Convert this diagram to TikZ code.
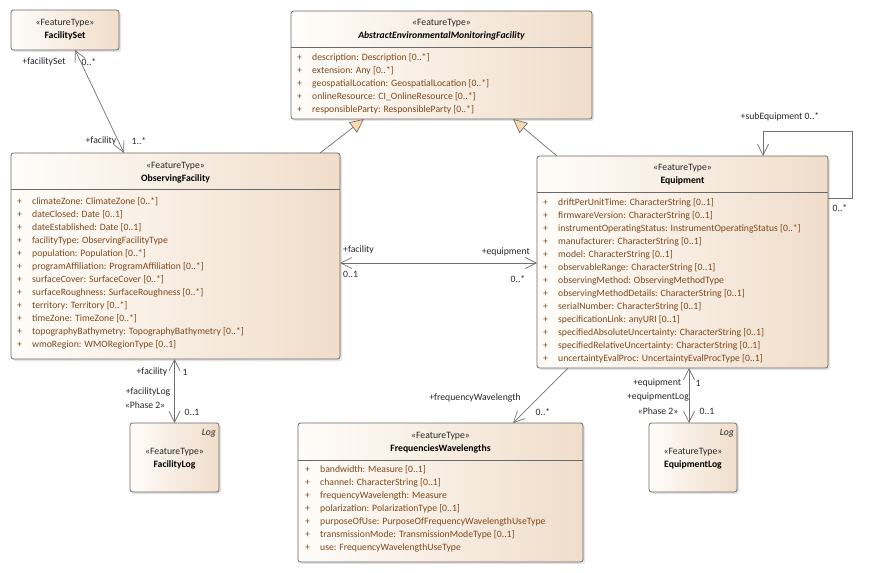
\documentclass[tikz,border=0pt]{standalone}
\usepackage{fontspec}
\setmainfont{Carlito}
\usetikzlibrary{arrows.meta,positioning,calc,shadows}
\definecolor{boxL}{RGB}{255,253,250}
\definecolor{boxR}{RGB}{240,221,202}
\definecolor{boxLine}{RGB}{105,105,105}
\definecolor{attrcolor}{RGB}{125,72,28}
\definecolor{linkcolor}{RGB}{112,112,112}
\definecolor{genfill}{RGB}{250,218,170}
\newcommand{\attr}[1]{\makebox[15pt][l]{+}#1}
\newcommand{\umlfont}{\fontsize{9.7}{13}\selectfont}

\tikzset{
  umlbox/.style={draw=boxLine, line width=0.8pt, rounded corners=2.5pt,
    left color=boxL, right color=boxR, inner sep=0pt, outer sep=0pt,
    anchor=north west,
    drop shadow={opacity=0.22, shadow xshift=2pt, shadow yshift=-2pt}},
  stereo/.style={font=\umlfont, text=black!85, inner sep=0pt},
  clsname/.style={font=\umlfont\bfseries, inner sep=0pt},
  attrlist/.style={font=\umlfont, text=attrcolor,
    align=left, anchor=north west, inner sep=0pt},
  divider/.style={draw=boxLine, line width=0.8pt},
  assoc/.style={draw=linkcolor, line width=0.7pt},
  gen/.style={draw=linkcolor, line width=0.7pt,
    -{Triangle[length=14pt, width=13pt, fill=genfill]}},
  role/.style={font=\umlfont, text=black!85, inner sep=0pt},
  >={Straight Barb[length=11pt, width=11pt]}
}

\begin{document}
\begin{tikzpicture}[x=1pt, y=-1pt]
  \useasboundingbox (0,0) rectangle (874,572);
  % --- class boxes ---
  \node[umlbox, minimum width=108pt, minimum height=40pt] (fset) at (11,10) {};
  \node[umlbox, minimum width=301pt, minimum height=108pt] (abst) at (291,11) {};
  \node[umlbox, minimum width=329pt, minimum height=206pt] (ofac) at (11,153) {};
  \node[umlbox, minimum width=291pt, minimum height=212pt] (equip) at (537,156) {};
  \node[umlbox, minimum width=285pt, minimum height=139pt] (fw) at (298,423) {};
  \node[umlbox, minimum width=89pt, minimum height=69pt] (flog) at (130,423) {};
  \node[umlbox, minimum width=88pt, minimum height=69pt] (elog) at (649,423) {};

  % --- compartment lines ---
  \draw[divider] (abst.west |- 0,47) -- (abst.east |- 0,47);
  \draw[divider] (ofac.west |- 0,189) -- (ofac.east |- 0,189);
  \draw[divider] (equip.west |- 0,192) -- (equip.east |- 0,192);
  \draw[divider] (fw.west |- 0,460) -- (fw.east |- 0,460);

  % --- headers ---
  \node[stereo] (fset-st) at (fset.north |- 0,23) {«FeatureType»};
  \node[clsname] (fset-nm) at (fset.north |- 0,36) {FacilitySet};
  \node[stereo] (abst-st) at (abst.north |- 0,23) {«FeatureType»};
  \node[clsname, font=\umlfont\bfseries\itshape] (abst-nm)
    at (abst.north |- 0,36) {AbstractEnvironmentalMonitoringFacility};
  \node[stereo] (ofac-st) at (ofac.north |- 0,166) {«FeatureType»};
  \node[clsname] (ofac-nm) at (ofac.north |- 0,179) {ObservingFacility};
  \node[stereo] (equip-st) at (equip.north |- 0,168) {«FeatureType»};
  \node[clsname] (equip-nm) at (equip.north |- 0,181) {Equipment};
  \node[stereo] (fw-st) at (fw.north |- 0,436) {«FeatureType»};
  \node[clsname] (fw-nm) at (fw.north |- 0,449) {FrequenciesWavelengths};
  \node[stereo] (flog-st) at (flog.north |- 0,452) {«FeatureType»};
  \node[clsname] (flog-nm) at (flog.north |- 0,465) {FacilityLog};
  \node[stereo, font=\umlfont\itshape, anchor=east] (flog-tag)
    at (216,433) {Log};
  \node[stereo] (elog-st) at (elog.north |- 0,452) {«FeatureType»};
  \node[clsname] (elog-nm) at (elog.north |- 0,465) {EquipmentLog};
  \node[stereo, font=\umlfont\itshape, anchor=east] (elog-tag)
    at (734,433) {Log};

  % --- attributes ---
  \node[attrlist] (abst-at) at (297,53.5) {%
    \attr{description: Description [0..*]}\\
    \attr{extension: Any [0..*]}\\
    \attr{geospatialLocation: GeospatialLocation [0..*]}\\
    \attr{onlineResource: CI\_OnlineResource [0..*]}\\
    \attr{responsibleParty: ResponsibleParty [0..*]}};
  \node[attrlist] (ofac-at) at (17,197.5) {%
    \attr{climateZone: ClimateZone [0..*]}\\
    \attr{dateClosed: Date [0..1]}\\
    \attr{dateEstablished: Date [0..1]}\\
    \attr{facilityType: ObservingFacilityType}\\
    \attr{population: Population [0..*]}\\
    \attr{programAffiliation: ProgramAffiliation [0..*]}\\
    \attr{surfaceCover: SurfaceCover [0..*]}\\
    \attr{surfaceRoughness: SurfaceRoughness [0..*]}\\
    \attr{territory: Territory [0..*]}\\
    \attr{timeZone: TimeZone [0..*]}\\
    \attr{topographyBathymetry: TopographyBathymetry [0..*]}\\
    \attr{wmoRegion: WMORegionType [0..1]}};
  \node[attrlist] (equip-at) at (543,198.5) {%
    \attr{driftPerUnitTime: CharacterString [0..1]}\\
    \attr{firmwareVersion: CharacterString [0..1]}\\
    \attr{instrumentOperatingStatus: InstrumentOperatingStatus [0..*]}\\
    \attr{manufacturer: CharacterString [0..1]}\\
    \attr{model: CharacterString [0..1]}\\
    \attr{observableRange: CharacterString [0..1]}\\
    \attr{observingMethod: ObservingMethodType}\\
    \attr{observingMethodDetails: CharacterString [0..1]}\\
    \attr{serialNumber: CharacterString [0..1]}\\
    \attr{specificationLink: anyURI [0..1]}\\
    \attr{specifiedAbsoluteUncertainty: CharacterString [0..1]}\\
    \attr{specifiedRelativeUncertainty: CharacterString [0..1]}\\
    \attr{uncertaintyEvalProc: UncertaintyEvalProcType [0..1]}};
  \node[attrlist] (fw-at) at (305,465.5) {%
    \attr{bandwidth: Measure [0..1]}\\
    \attr{channel: CharacterString [0..1]}\\
    \attr{frequencyWavelength: Measure}\\
    \attr{polarization: PolarizationType [0..1]}\\
    \attr{purposeOfUse: PurposeOfFrequencyWavelengthUseType}\\
    \attr{transmissionMode: TransmissionModeType [0..1]}\\
    \attr{use: FrequencyWavelengthUseType}};

  % --- generalizations ---
  \draw[gen] ([xshift=309pt]ofac.north west) -- ([xshift=73pt]abst.south west);
  \draw[gen] ([xshift=20pt]equip.north west) -- ([xshift=222pt]abst.south west);

  % --- associations ---
  \draw[assoc, <->] ([xshift=64pt]fset.south west) -- ([xshift=113pt]ofac.north west);
  \draw[assoc, <->] (ofac.east |- 0,263) -- (equip.west |- 0,263);
  \draw[assoc, <->] (ofac.south -| flog.north) -- (flog.north);
  \draw[assoc, <->] (equip.south -| 689,0) -- (elog.north -| 689,0);
  \draw[assoc, ->] ([xshift=31pt]equip.south west) -- ([xshift=215pt]fw.north west);
  \draw[assoc, ->] (equip.east |- 0,198) -- (852,198) -- (852,131)
    -| ([xshift=226pt]equip.north west);

  % --- role names and multiplicities ---
  \node[role] (r-fset) at (44,62) {+facilitySet};
  \node[role] (m-fset) at (89,62) {0..*};
  \node[role] (r-fac1) at (101,141) {+facility};
  \node[role] (m-fac1) at (139,141) {1..*};
  \node[role, anchor=west] (r-fac2) at (343,250) {+facility};
  \node[role, anchor=west] (m-fac2) at (343,274) {0..1};
  \node[role, anchor=east] (r-eq1) at (530,252) {+equipment};
  \node[role] (m-eq1) at (518,279) {0..*};
  \node[role] (r-sub) at (780,117) {+subEquipment 0..*};
  \node[role] (m-sub) at (840,208) {0..*};
  \node[role] (r-freq) at (475,398) {+frequencyWavelength};
  \node[role] (m-freq) at (543,412) {0..*};
  \node[role] (r-fac3) at (152,372) {+facility};
  \node[role] (m-fac3) at (185,372) {1};
  \node[role] (r-flog) at (148,392) {+facilityLog};
  \node[role] (s-flog) at (145,405) {«Phase 2»};
  \node[role] (m-flog) at (192,412) {0..1};
  \node[role] (r-eq2) at (657,383) {+equipment};
  \node[role] (m-eq2) at (698,383) {1};
  \node[role] (r-elog) at (658,397) {+equipmentLog};
  \node[role] (s-elog) at (658,411) {«Phase 2»};
  \node[role] (m-elog) at (707,411) {0..1};
\end{tikzpicture}
\end{document}
